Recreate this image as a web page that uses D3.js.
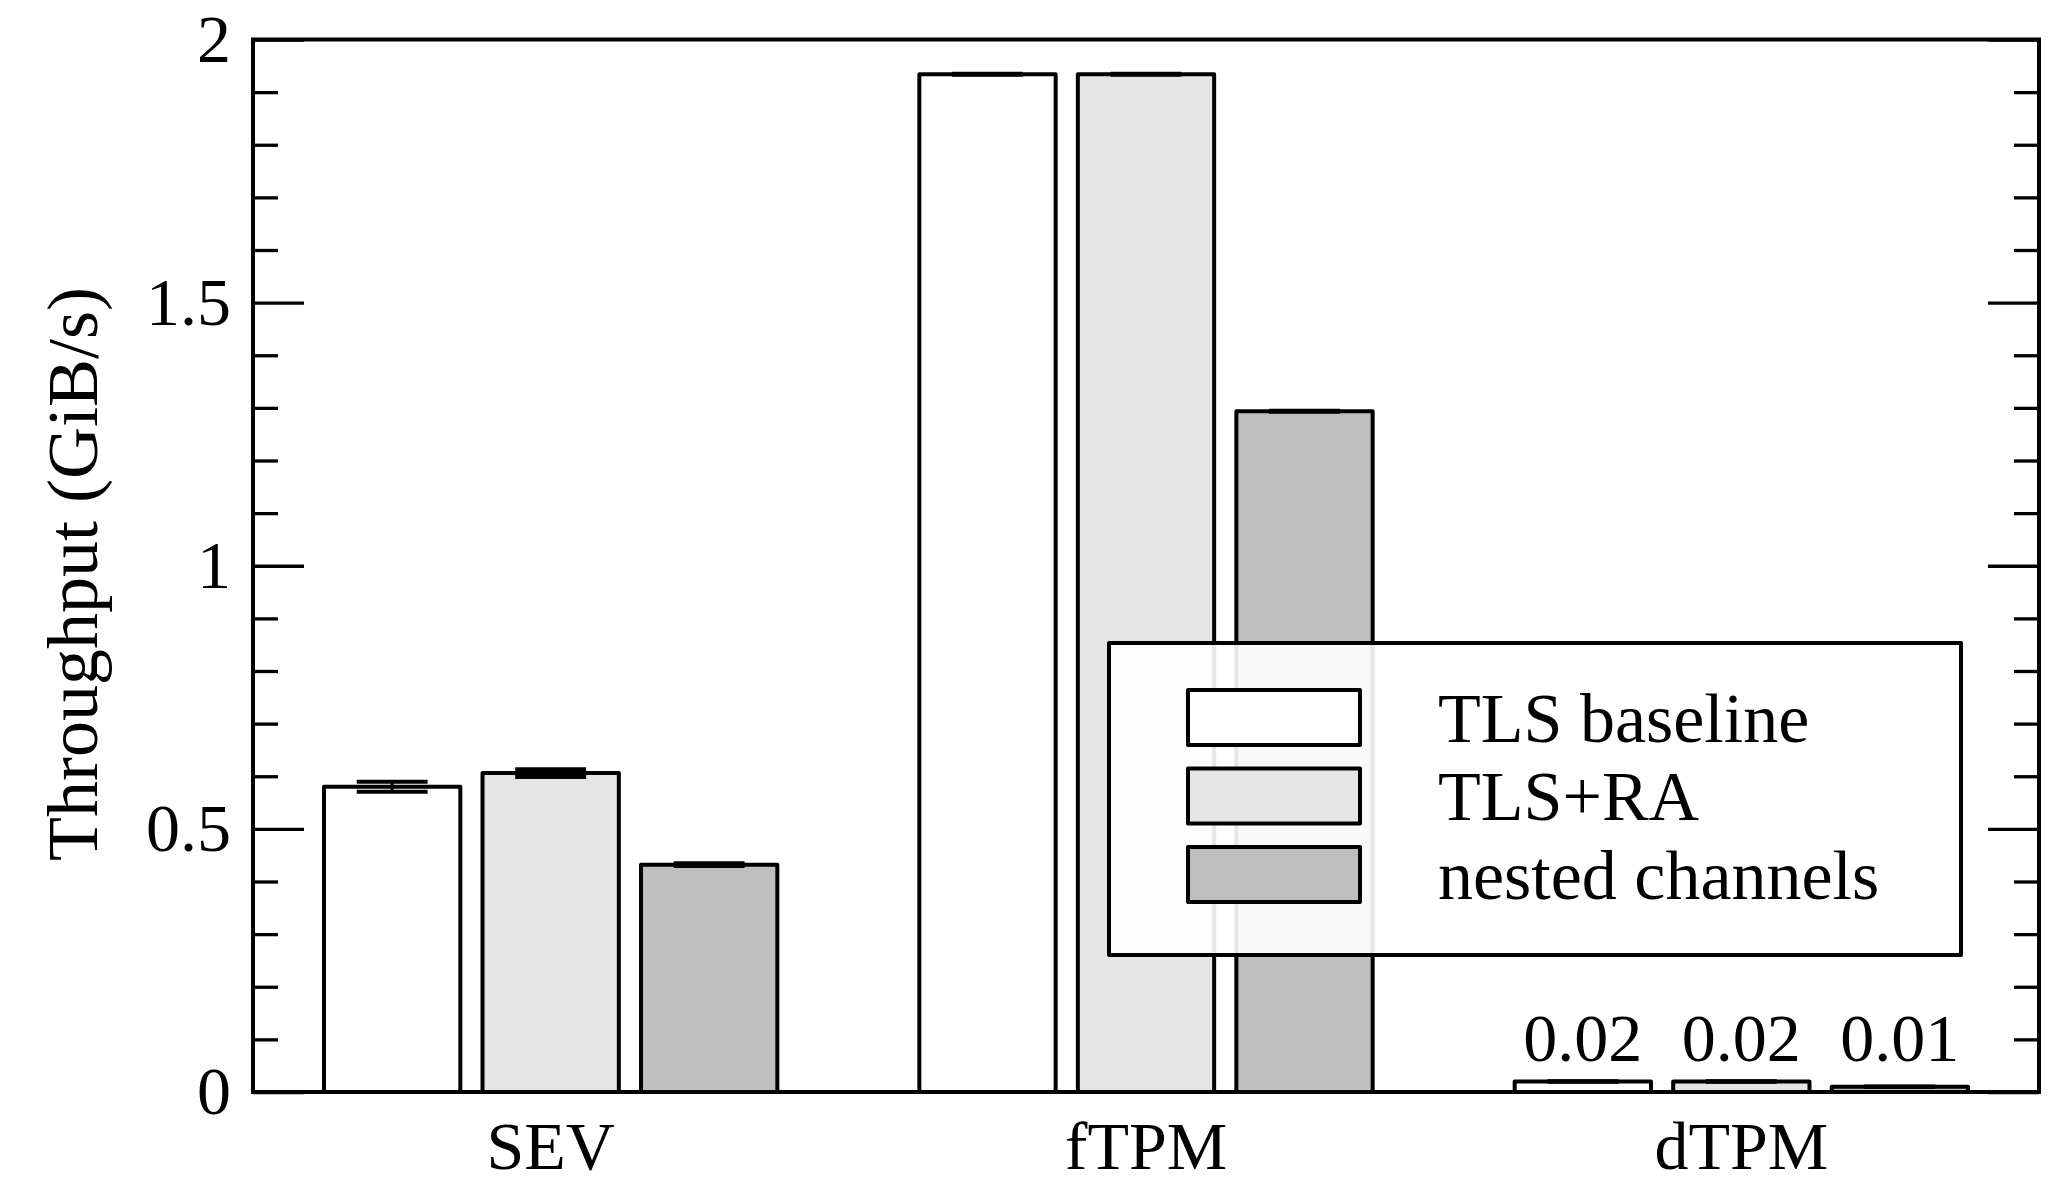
<!DOCTYPE html>
<html>
<head>
<meta charset="utf-8">
<script src="https://cdn.jsdelivr.net/npm/d3@7"></script>
<style>
  html, body { margin: 0; padding: 0; background: #fff; }
  svg { display: block; }
  text { font-family: "Liberation Serif", "Times New Roman", serif; fill: #000; }
</style>
</head>
<body>
<svg id="chart" width="2049" height="1184"></svg>
<script>
// ---- data ----
const categories = ["SEV", "fTPM", "dTPM"];
const series = ["TLS baseline", "TLS+RA", "nested channels"];
const seriesColors = ["#ffffff", "#e5e5e5", "#bfbfbf"];
const tlsBaseline = [0.580, 1.934, 0.02];
const tlsRA = [0.606, 1.934, 0.02];
const nestedChannels = [0.432, 1.2935, 0.01];
const tlsBaselineErr = [0.0095, 0.001, 0.0005];
const tlsRAErr = [0.0074, 0.001, 0.0005];
const nestedChannelsErr = [0.0025, 0.001, 0.0005];
const majorTicks = [0, 0.5, 1, 1.5, 2];
const minorTicks = [0.1, 0.2, 0.3, 0.4, 0.6, 0.7, 0.8, 0.9, 1.1, 1.2, 1.3, 1.4, 1.6, 1.7, 1.8, 1.9];
const labeledCategory = "dTPM";

const values = [tlsBaseline, tlsRA, nestedChannels];
const errors = [tlsBaselineErr, tlsRAErr, nestedChannelsErr];

// ---- layout ----
const L = 253, R = 2039, T = 39.5, B = 1092;
const svg = d3.select("#chart");

const y = d3.scaleLinear().domain([0, 2]).range([B, T]);
const x0 = d3.scaleBand().domain(categories).range([L, R]).paddingInner(0).paddingOuter(0);
const x1 = d3.scaleBand().domain(series).range([0, x0.bandwidth()]).paddingInner(0.14).paddingOuter(0.448);
const color = d3.scaleOrdinal().domain(series).range(seriesColors);

const rows = [];
categories.forEach((c, ci) => {
  series.forEach((s, si) => {
    rows.push({cat: c, ser: s, v: values[si][ci], e: errors[si][ci]});
  });
});

// ---- bars ----
const gBars = svg.append("g");
gBars.selectAll("rect").data(rows).join("rect")
  .attr("x", d => x0(d.cat) + x1(d.ser))
  .attr("y", d => y(d.v))
  .attr("width", x1.bandwidth())
  .attr("height", d => y(0) - y(d.v))
  .attr("fill", d => color(d.ser))
  .attr("stroke", "#000")
  .attr("stroke-width", 4)
  .attr("stroke-linejoin", "round");

// ---- error bars ----
const gErr = svg.append("g").attr("stroke", "#000").attr("stroke-width", 4);
const whisk = x1.bandwidth() * 0.26;
rows.forEach(d => {
  const cx = x0(d.cat) + x1(d.ser) + x1.bandwidth() / 2;
  gErr.append("line").attr("x1", cx).attr("x2", cx).attr("y1", y(d.v + d.e)).attr("y2", y(d.v - d.e)).attr("stroke-width", 3);
  gErr.append("line").attr("x1", cx - whisk).attr("x2", cx + whisk).attr("y1", y(d.v + d.e)).attr("y2", y(d.v + d.e));
  gErr.append("line").attr("x1", cx - whisk).attr("x2", cx + whisk).attr("y1", y(d.v - d.e)).attr("y2", y(d.v - d.e));
});

// ---- value labels on dTPM ----
const labeled = rows.filter(d => d.cat === labeledCategory);
const labelBase = y(d3.max(labeled, d => d.v)) - 20;
svg.append("g").selectAll("text").data(labeled).join("text")
  .attr("x", d => x0(d.cat) + x1(d.ser) + x1.bandwidth() / 2)
  .attr("y", labelBase)
  .attr("text-anchor", "middle")
  .attr("font-size", 68)
  .text(d => d3.format(".2f")(d.v));

// ---- axes ----
const fontSize = 68;
const leftMajor = svg.append("g").attr("transform", `translate(${L},0)`)
  .call(d3.axisLeft(y).tickValues(majorTicks).tickSize(-51).tickPadding(22).tickFormat(d3.format("")));
const leftMinor = svg.append("g").attr("transform", `translate(${L},0)`)
  .call(d3.axisLeft(y).tickValues(minorTicks).tickSize(-25).tickFormat(""));
const rightMajor = svg.append("g").attr("transform", `translate(${R},0)`)
  .call(d3.axisRight(y).tickValues(majorTicks).tickSize(-51).tickFormat(""));
const rightMinor = svg.append("g").attr("transform", `translate(${R},0)`)
  .call(d3.axisRight(y).tickValues(minorTicks).tickSize(-25).tickFormat(""));
const bottom = svg.append("g").attr("transform", `translate(0,${B})`)
  .call(d3.axisBottom(x0).tickSize(0).tickPadding(29));

[leftMajor, leftMinor, rightMajor, rightMinor, bottom].forEach(g => {
  g.select(".domain").remove();
  g.selectAll(".tick line").attr("stroke", "#000").attr("stroke-width", 3.3);
  g.selectAll(".tick text").attr("font-size", fontSize)
    .attr("font-family", '"Liberation Serif", "Times New Roman", serif').attr("fill", "#000");
});

// frame
svg.append("rect")
  .attr("x", L).attr("y", T).attr("width", R - L).attr("height", B - T)
  .attr("fill", "none").attr("stroke", "#000").attr("stroke-width", 4);

// y title
svg.append("text")
  .attr("transform", `translate(97,574) rotate(-90)`)
  .attr("text-anchor", "middle")
  .attr("font-size", 72)
  .text("Throughput (GiB/s)");

// ---- legend ----
const lg = svg.append("g");
lg.append("rect")
  .attr("x", 1109).attr("y", 643).attr("width", 852).attr("height", 312)
  .attr("fill", "#ffffff").attr("fill-opacity", 0.9)
  .attr("stroke", "#000").attr("stroke-width", 4).attr("stroke-linejoin", "round");
const items = lg.selectAll("g.item").data(series).join("g")
  .attr("class", "item")
  .attr("transform", (d, i) => `translate(1188,${690 + i * 78.5})`);
items.append("rect")
  .attr("width", 172).attr("height", 55)
  .attr("fill", d => color(d))
  .attr("stroke", "#000").attr("stroke-width", 4).attr("stroke-linejoin", "round");
items.append("text")
  .attr("x", 250).attr("y", 27.5 + 24)
  .attr("font-size", 70)
  .text(d => d);
</script>
</body>
</html>
